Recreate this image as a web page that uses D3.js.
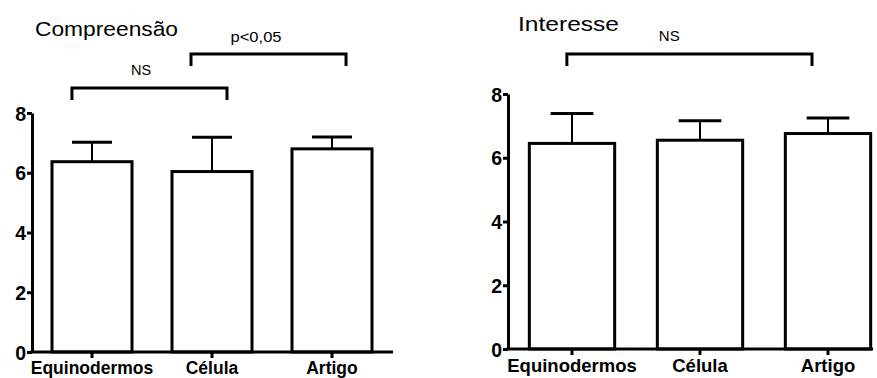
<!DOCTYPE html>
<html>
<head>
<meta charset="utf-8">
<script src="https://cdn.jsdelivr.net/npm/d3@7"></script>
<style>
  html, body { margin: 0; padding: 0; background: #fff; }
  svg { display: block; }
  .tick text { font-family: "Liberation Sans", Arial, sans-serif; font-weight: bold; fill: #000; }
</style>
</head>
<body>
<svg id="chart" width="877" height="378"></svg>
<script>
// Group names shared by both panels
const categories = ["Equinodermos", "Célula", "Artigo"];

// Compreensão: means and upper error (SD)
const compreensaoMeans = [6.37, 6.04, 6.80];
const compreensaoErr = [0.65, 1.15, 0.40];

// Interesse: means and upper error (SD)
const interesseMeans = [6.45, 6.55, 6.76];
const interesseErr = [0.94, 0.61, 0.49];

// Y axis ticks
const yTicks = [0, 2, 4, 6, 8];

// Pairwise comparison annotations (category indices)
const compreensaoTests = [
  { from: 0, to: 1, label: "NS" },
  { from: 1, to: 2, label: "p<0,05" }
];
const interesseTests = [
  { from: 0, to: 2, label: "NS" }
];

const svg = d3.select("#chart");
const FONT = "'Liberation Sans', Arial, sans-serif";

// Per-panel geometry; bracket ends and label centres are given in band steps
// measured from the first category centre.
const panels = [
  {
    title: "Compreensão", means: compreensaoMeans, err: compreensaoErr, tests: compreensaoTests,
    layout: {
      axisX: 32, bandRange: [32, 392], xEnd: 393, zeroY: 352, topY: 113,
      titleX: 35, titleY: 36, titleLen: 143, labelSize: 17.5,
      brackets: [
        { y: 88, x0: -0.167, x1: 1.125, tx: 0.41, textY: 75, textSize: 14.5 },
        { y: 54, x0: 0.825, x1: 2.117, tx: 1.367, textY: 42, textSize: 14.5, textLen: 51 }
      ]
    }
  },
  {
    title: "Interesse", means: interesseMeans, err: interesseErr, tests: interesseTests,
    layout: {
      axisX: 508, bandRange: [508, 892], xEnd: 873, zeroY: 349, topY: 94,
      titleX: 518, titleY: 31, titleLen: 101, labelSize: 18.5,
      brackets: [
        { y: 54, x0: -0.04, x1: 1.875, tx: 0.76, textY: 41, textSize: 15 }
      ]
    }
  }
];

panels.forEach(p => {
  const L = p.layout;
  const g = svg.append("g");

  const x = d3.scaleBand()
    .domain(categories)
    .range(L.bandRange)
    .paddingInner(1 / 3)
    .paddingOuter(1 / 6);
  const y = d3.scaleLinear().domain([0, 8]).range([L.zeroY, L.topY]);
  const center = i => x(categories[i]) + x.bandwidth() / 2;

  // Bars
  g.selectAll("rect.bar")
    .data(p.means)
    .join("rect")
    .attr("class", "bar")
    .attr("x", (d, i) => x(categories[i]))
    .attr("width", x.bandwidth())
    .attr("y", d => y(d))
    .attr("height", d => y(0) - y(d))
    .attr("fill", "#fff")
    .attr("stroke", "#000")
    .attr("stroke-width", 3);

  // Error bars (upper only)
  const capHalf = x.bandwidth() / 4;
  p.means.forEach((m, i) => {
    const cx = center(i);
    g.append("line")
      .attr("x1", cx).attr("x2", cx)
      .attr("y1", y(m)).attr("y2", y(m + p.err[i]))
      .attr("stroke", "#000").attr("stroke-width", 2);
    g.append("line")
      .attr("x1", cx - capHalf).attr("x2", cx + capHalf)
      .attr("y1", y(m + p.err[i])).attr("y2", y(m + p.err[i]))
      .attr("stroke", "#000").attr("stroke-width", 3);
  });

  // Y axis
  const yAxis = g.append("g")
    .attr("transform", `translate(${L.axisX},0)`)
    .call(d3.axisLeft(y).tickValues(yTicks).tickFormat(d3.format("d")).tickSize(5).tickSizeOuter(0).tickPadding(1));
  yAxis.select(".domain").attr("stroke-width", 3);
  yAxis.selectAll(".tick line").attr("stroke-width", 3);
  yAxis.selectAll(".tick text").style("font-size", "19.5px").attr("dy", "0.36em");

  // X axis
  const xAxis = g.append("g")
    .attr("transform", `translate(0,${L.zeroY})`)
    .call(d3.axisBottom(x).tickSize(6).tickSizeOuter(0).tickPadding(4));
  xAxis.select(".domain").remove();
  xAxis.append("line")
    .attr("x1", L.axisX - 1.5).attr("x2", L.xEnd)
    .attr("y1", 0).attr("y2", 0)
    .attr("stroke", "#000").attr("stroke-width", 3);
  xAxis.selectAll(".tick line").attr("stroke-width", 3);
  xAxis.selectAll(".tick text").style("font-size", L.labelSize + "px");

  // Title
  g.append("text")
    .attr("x", L.titleX).attr("y", L.titleY)
    .attr("font-family", FONT).attr("font-size", 21)
    .attr("textLength", L.titleLen).attr("lengthAdjust", "spacingAndGlyphs")
    .text(p.title);

  // Comparison brackets
  const step = x.step();
  p.tests.forEach((t, k) => {
    const b = L.brackets[k];
    const xa = center(0) + b.x0 * step;
    const xb = center(0) + b.x1 * step;
    g.append("path")
      .attr("d", `M${xa},${b.y + 12}V${b.y}H${xb}V${b.y + 12}`)
      .attr("fill", "none").attr("stroke", "#000").attr("stroke-width", 3);
    const txt = g.append("text")
      .attr("x", center(0) + b.tx * step).attr("y", b.textY)
      .attr("text-anchor", "middle")
      .attr("font-family", FONT).attr("font-size", b.textSize)
      .text(t.label);
    if (b.textLen) txt.attr("textLength", b.textLen).attr("lengthAdjust", "spacingAndGlyphs");
  });
});
</script>
</body>
</html>
